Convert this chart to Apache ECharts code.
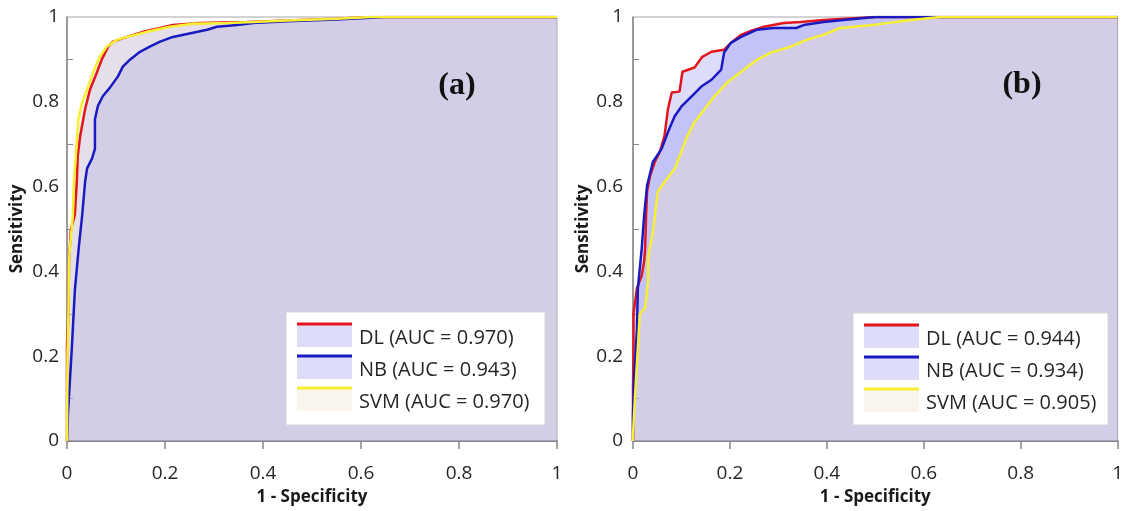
<!DOCTYPE html>
<html>
<head>
<meta charset="utf-8">
<script src="https://cdn.jsdelivr.net/npm/echarts@6/dist/echarts.min.js"></script>
<style>
  body { margin: 0; background: #fff; }
  #chart { width: 1126px; height: 511px; }
</style>
</head>
<body>
<div id="chart"></div>
<script>
// ROC points [1 - specificity, sensitivity]
var dlA = [[0,0],[0,0.23],[0.003,0.30],[0.004,0.42],[0.008,0.50],[0.016,0.533],[0.020,0.612],[0.022,0.673],[0.027,0.72],[0.037,0.783],[0.047,0.829],[0.061,0.869],[0.071,0.90],[0.084,0.93],[0.094,0.942],[0.122,0.953],[0.155,0.965],[0.19,0.974],[0.216,0.981],[0.271,0.986],[0.367,0.988],[0.45,0.992],[0.55,0.996],[0.62,1],[1,1]];
var nbA = [[0,0],[0.002,0.065],[0.01,0.222],[0.016,0.355],[0.024,0.456],[0.031,0.533],[0.037,0.612],[0.041,0.643],[0.051,0.666],[0.057,0.689],[0.057,0.759],[0.063,0.79],[0.073,0.813],[0.088,0.834],[0.104,0.86],[0.114,0.883],[0.129,0.9],[0.149,0.918],[0.169,0.93],[0.19,0.942],[0.216,0.953],[0.257,0.963],[0.286,0.97],[0.306,0.977],[0.347,0.981],[0.38,0.986],[0.45,0.99],[0.55,0.994],[0.65,1],[1,1]];
var svmA = [[0,0],[0.001,0.2],[0.003,0.3],[0.004,0.42],[0.006,0.456],[0.012,0.533],[0.014,0.612],[0.018,0.673],[0.023,0.759],[0.031,0.799],[0.041,0.829],[0.053,0.869],[0.067,0.907],[0.081,0.93],[0.102,0.946],[0.122,0.953],[0.163,0.965],[0.21,0.977],[0.257,0.984],[0.327,0.986],[0.38,0.988],[0.45,0.992],[0.55,0.996],[0.62,1],[1,1]];

var dlB = [[0,0],[0,0.126],[0.001,0.22],[0.001,0.30],[0.008,0.36],[0.018,0.39],[0.023,0.424],[0.025,0.454],[0.027,0.532],[0.029,0.588],[0.035,0.625],[0.045,0.658],[0.055,0.681],[0.065,0.719],[0.072,0.782],[0.080,0.822],[0.096,0.824],[0.102,0.871],[0.127,0.881],[0.143,0.906],[0.162,0.918],[0.188,0.923],[0.202,0.939],[0.223,0.958],[0.243,0.967],[0.27,0.977],[0.311,0.986],[0.346,0.988],[0.393,0.993],[0.5,1],[1,1]];
var nbB = [[0,0],[0,0.063],[0.002,0.143],[0.008,0.26],[0.01,0.36],[0.018,0.454],[0.023,0.532],[0.029,0.602],[0.041,0.658],[0.059,0.689],[0.072,0.728],[0.086,0.766],[0.1,0.789],[0.121,0.813],[0.141,0.836],[0.162,0.852],[0.182,0.876],[0.188,0.916],[0.202,0.939],[0.223,0.953],[0.256,0.97],[0.29,0.974],[0.337,0.974],[0.352,0.981],[0.393,0.988],[0.434,0.993],[0.5,1],[1,1]];
var svmB = [[0,0],[0,0.016],[0.004,0.103],[0.01,0.22],[0.014,0.3],[0.025,0.314],[0.031,0.377],[0.031,0.431],[0.041,0.494],[0.045,0.532],[0.051,0.588],[0.065,0.611],[0.086,0.642],[0.102,0.689],[0.112,0.719],[0.127,0.752],[0.147,0.782],[0.168,0.813],[0.194,0.845],[0.223,0.871],[0.256,0.899],[0.284,0.916],[0.325,0.93],[0.358,0.946],[0.393,0.958],[0.427,0.974],[0.5,0.982],[0.573,0.993],[0.634,1],[1,1]];

var legendA = ['DL (AUC = 0.970)', 'NB (AUC = 0.943)', 'SVM (AUC = 0.970)'];
var legendB = ['DL (AUC = 0.944)', 'NB (AUC = 0.934)', 'SVM (AUC = 0.905)'];
var panelNames = ['(a)', '(b)'];

var lineColors = ['#e3151d', '#1a1ac2', '#f7ef33'];
var fillColors = ['rgba(120,120,235,0.25)', 'rgba(120,120,235,0.25)', 'rgba(242,227,200,0.35)'];

var chart = echarts.init(document.getElementById('chart'));
var axisGrey = '#868686';
var font = 'Open Sans';

function xAxisFor(i) {
    return {
        type: 'value', gridIndex: i, min: 0, max: 1, interval: 0.2,
        axisLine: { show: true, lineStyle: { color: axisGrey, width: 2 } },
        axisTick: { show: true, length: 8, lineStyle: { color: axisGrey, width: 1.5 } },
        axisLabel: { fontFamily: font, fontSize: 19, color: '#262626', margin: 23 },
        splitLine: { show: false },
        name: '1 - Specificity', nameLocation: 'middle', nameGap: 48,
        nameTextStyle: { fontFamily: font, fontWeight: 'bold', fontSize: 17, color: '#1a1a1a' }
    };
}
function yAxisFor(i) {
    return {
        type: 'value', gridIndex: i, min: 0, max: 1, interval: 0.2,
        axisLine: { show: true, lineStyle: { color: axisGrey, width: 1.5 } },
        axisTick: { show: false, inside: true },
        minorTick: { show: true, splitNumber: 2, length: 6, lineStyle: { color: axisGrey, width: 1 } },
        minorSplitLine: { show: false },
        axisLabel: { fontFamily: font, fontSize: 19, color: '#262626', margin: i === 0 ? 8 : 10 },
        splitLine: { show: false },
        name: 'Sensitivity', nameLocation: 'middle', nameGap: 41, nameRotate: 90,
        nameTextStyle: { fontFamily: font, fontWeight: 'bold', fontSize: 17, color: '#1a1a1a' }
    };
}

var series = [];
[[dlA, nbA, svmA], [dlB, nbB, svmB]].forEach(function (sets, i) {
    // areas first, then lines on top
    sets.forEach(function (d, k) {
        series.push({
            type: 'line', xAxisIndex: i, yAxisIndex: i, data: d,
            symbol: 'none', silent: true, z: 1,
            lineStyle: { width: 0 },
            areaStyle: { color: fillColors[k], opacity: 1 }
        });
    });
    sets.forEach(function (d, k) {
        series.push({
            type: 'line', xAxisIndex: i, yAxisIndex: i, data: d,
            symbol: 'none', z: 3,
            lineStyle: { color: lineColors[k], width: 2.5 }
        });
    });
});

// legend boxes drawn by hand: a line over a filled swatch, like the original
function legendBox(x0, y0, w, h, labels) {
    var els = [{
        type: 'rect', shape: { x: x0, y: y0, width: w, height: h },
        style: { fill: '#fff', stroke: '#d6d6d6', lineWidth: 1 }, z: 10
    }];
    labels.forEach(function (t, k) {
        var ly = y0 + 12 + k * 32;
        els.push({ type: 'rect', shape: { x: x0 + 11, y: ly, width: 55, height: 23 },
            style: { fill: fillColors[k] }, z: 11 });
        els.push({ type: 'line', shape: { x1: x0 + 11, y1: ly, x2: x0 + 66, y2: ly },
            style: { stroke: lineColors[k], lineWidth: 3 }, z: 12 });
        els.push({ type: 'text', z: 12,
            style: { x: x0 + 73, y: ly + 14, text: t, fill: '#262626',
                font: '20px "Open Sans"', textAlign: 'left', textVerticalAlign: 'middle', verticalAlign: 'middle' } });
    });
    return els;
}

var graphics = []
    .concat(legendBox(286, 312, 259, 113, legendA))
    .concat(legendBox(853, 313, 255, 112, legendB));
graphics.push({ type: 'text', z: 12, style: { x: 457, y: 86, text: panelNames[0], fill: '#111',
    font: 'bold 32px "Liberation Serif"', textAlign: 'center', textVerticalAlign: 'middle', verticalAlign: 'middle' } });
graphics.push({ type: 'text', z: 12, style: { x: 1022, y: 85, text: panelNames[1], fill: '#111',
    font: 'bold 32px "Liberation Serif"', textAlign: 'center', textVerticalAlign: 'middle', verticalAlign: 'middle' } });

chart.setOption({
    animation: false,
    backgroundColor: '#fff',
    grid: [
        { left: 67, top: 17, width: 490, height: 428, show: true, borderColor: '#a6a6a6', borderWidth: 1, backgroundColor: 'transparent' },
        { left: 633, top: 17, width: 489, height: 427, show: true, borderColor: '#a6a6a6', borderWidth: 1, backgroundColor: 'transparent' }
    ],
    xAxis: [xAxisFor(0), xAxisFor(1)],
    yAxis: [yAxisFor(0), yAxisFor(1)],
    series: series,
    graphic: graphics
});
</script>
</body>
</html>
